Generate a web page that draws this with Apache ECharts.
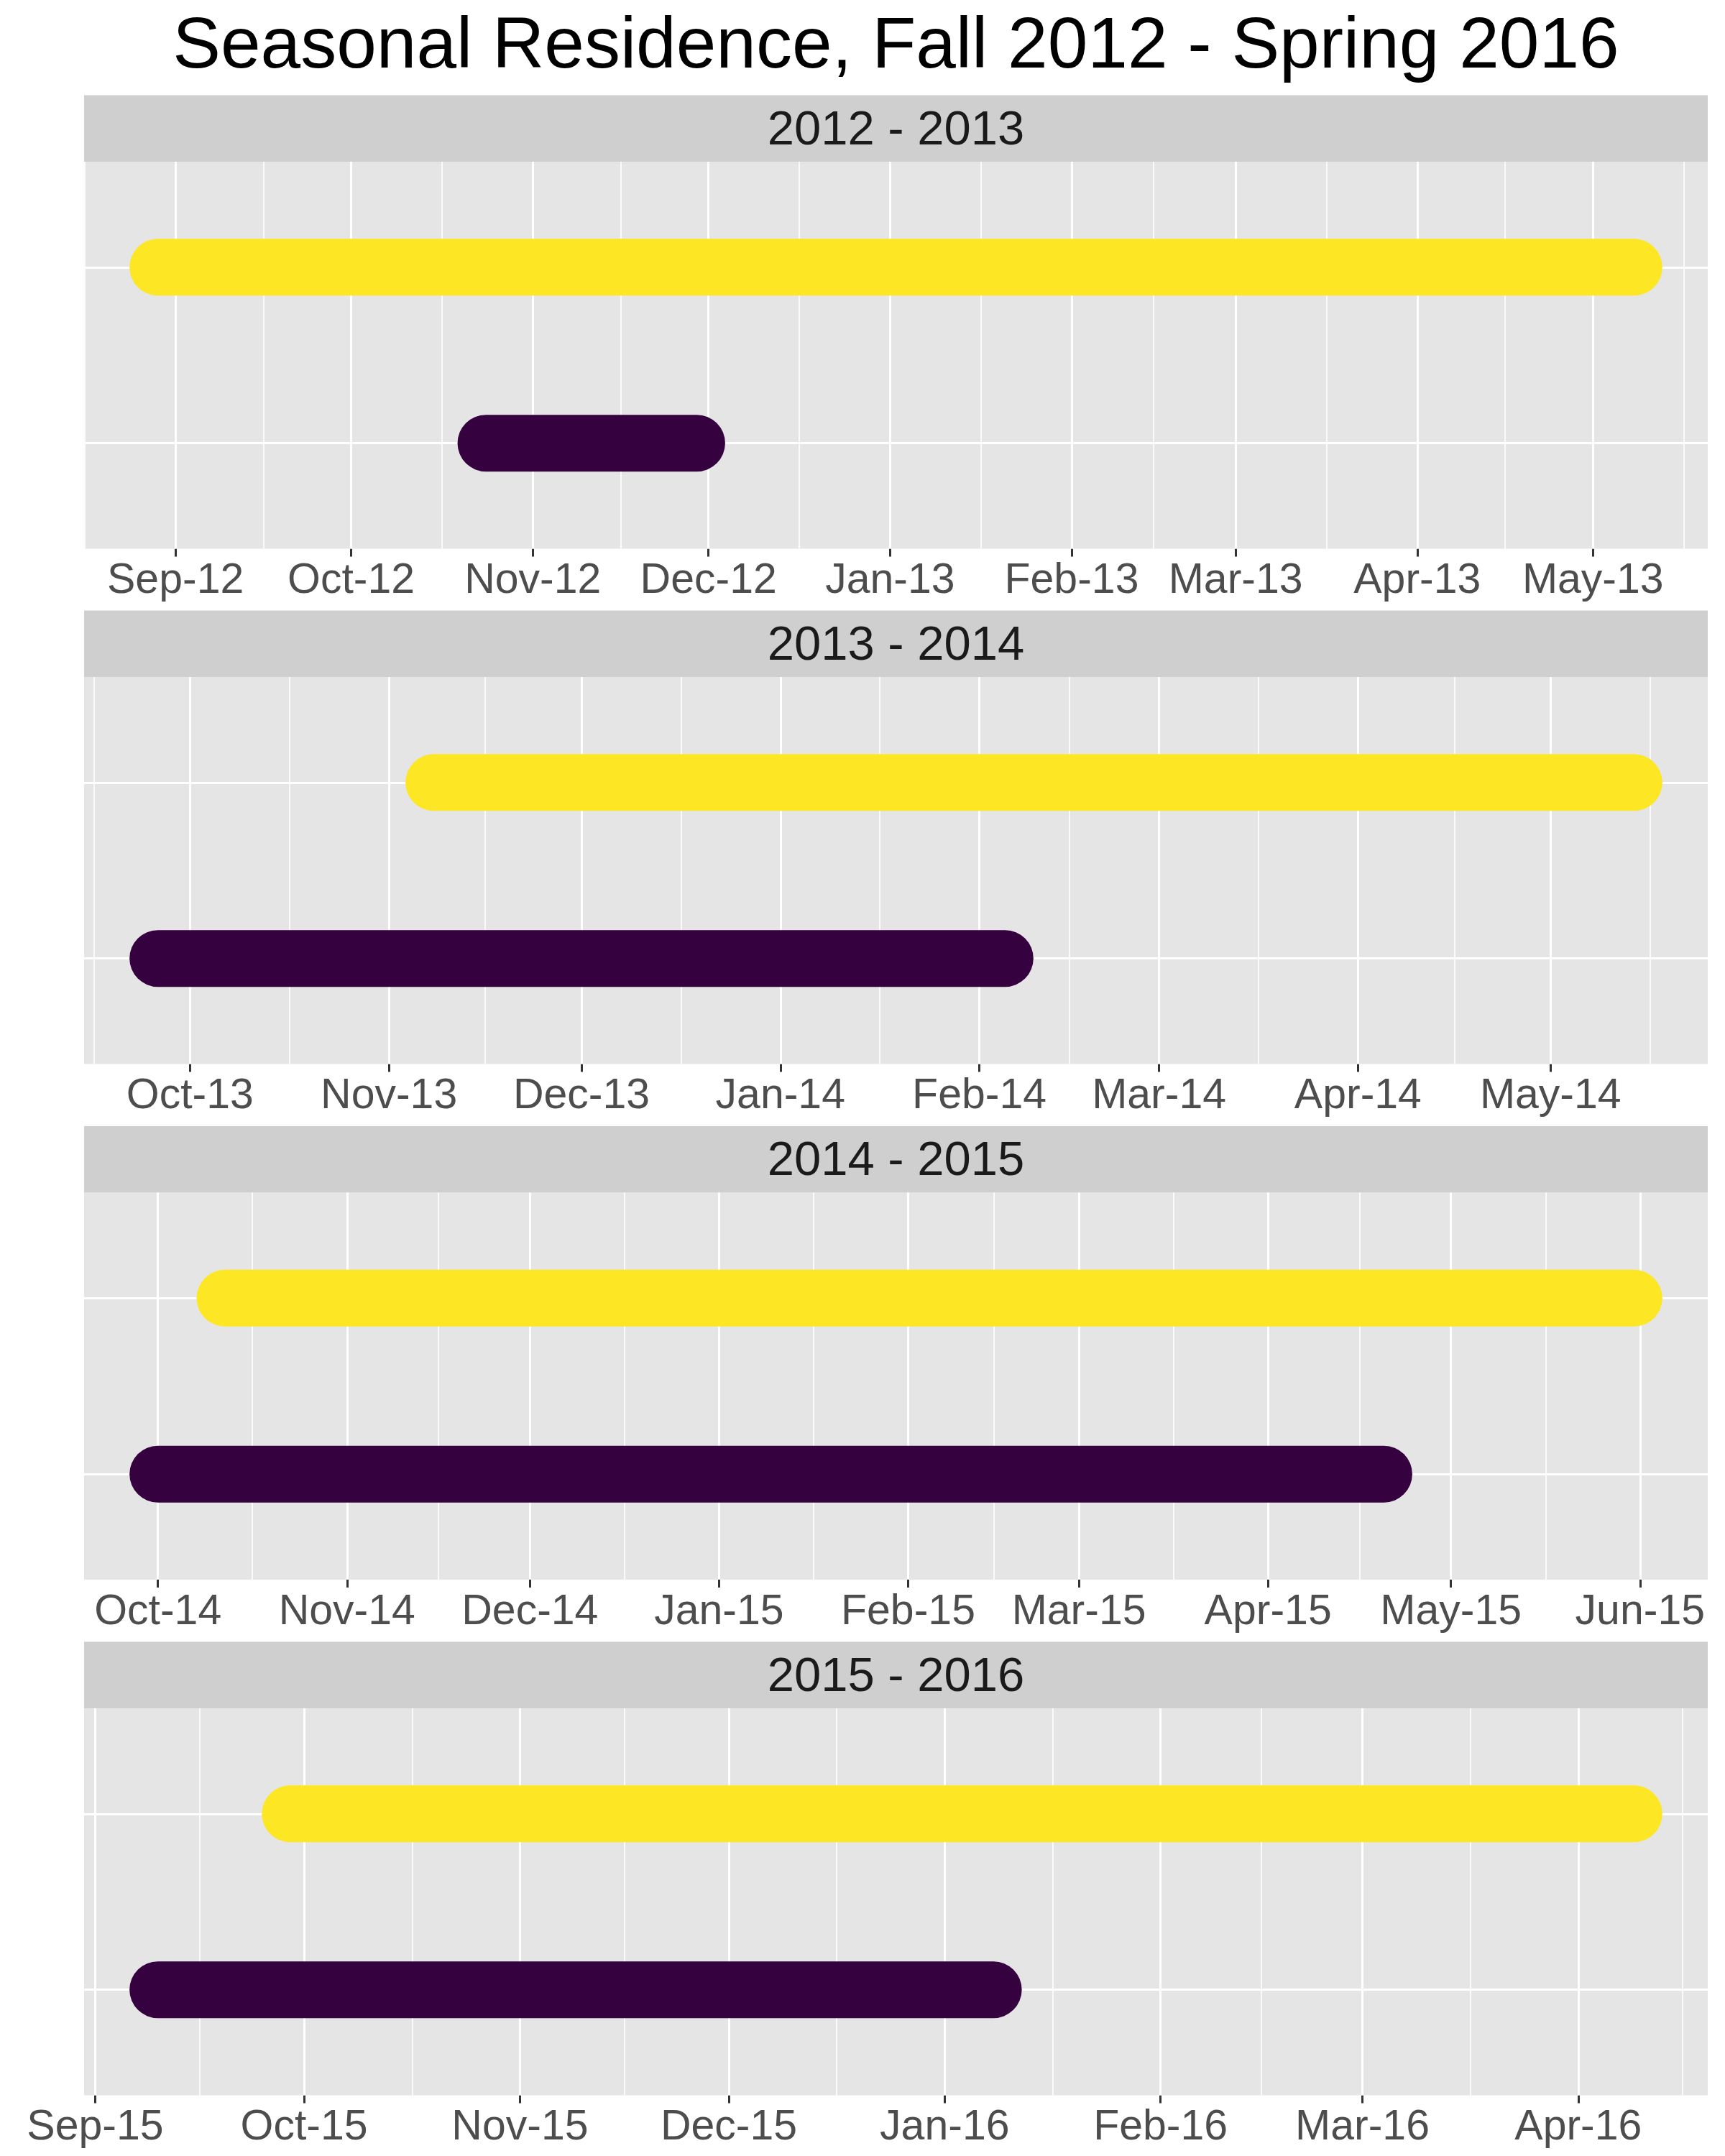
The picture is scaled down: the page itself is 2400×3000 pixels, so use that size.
<!DOCTYPE html>
<html><head><meta charset="utf-8">
<script src="https://cdn.jsdelivr.net/npm/echarts@6/dist/echarts.min.js"></script>
<style>html,body{margin:0;padding:0;background:#fff}#c{width:2400px;height:3000px}</style>
</head><body><div id="c"></div>
<script>
// ---- data ----
const chartTitle = 'Seasonal Residence, Fall 2012 - Spring 2016';
const panels = ['2012 - 2013', '2013 - 2014', '2014 - 2015', '2015 - 2016'];
const yellowStart = ['2012-08-29', '2013-11-08', '2014-10-12', '2015-09-29'];
const yellowEnd   = ['2013-05-08', '2014-05-14', '2015-05-31', '2016-04-09'];
const purpleStart = ['2012-10-24', '2013-09-26', '2014-10-01', '2015-09-10'];
const purpleEnd   = ['2012-11-29', '2014-02-05', '2015-04-20', '2016-01-08'];
const monthTicks1 = ['2012-09-01','2012-10-01','2012-11-01','2012-12-01','2013-01-01','2013-02-01','2013-03-01','2013-04-01','2013-05-01'];
const monthTicks2 = ['2013-10-01','2013-11-01','2013-12-01','2014-01-01','2014-02-01','2014-03-01','2014-04-01','2014-05-01'];
const monthTicks3 = ['2014-10-01','2014-11-01','2014-12-01','2015-01-01','2015-02-01','2015-03-01','2015-04-01','2015-05-01','2015-06-01'];
const monthTicks4 = ['2015-09-01','2015-10-01','2015-11-01','2015-12-01','2016-01-01','2016-02-01','2016-03-01','2016-04-01'];
const monthTicks = [monthTicks1, monthTicks2, monthTicks3, monthTicks4];
const monthNames = ['Jan','Feb','Mar','Apr','May','Jun','Jul','Aug','Sep','Oct','Nov','Dec'];

// ---- helpers ----
function ts(s){ const p = s.split('-').map(Number); return new Date(p[0], p[1]-1, p[2]).getTime(); }
function fmt(v){ const d = new Date(Math.round(v)); return monthNames[d.getMonth()] + '-' + String(d.getFullYear() % 100).padStart(2, '0'); }

const FONT = "'Liberation Sans', Arial, Helvetica, sans-serif";
const YELLOW = '#FDE725', PURPLE = '#36013F';
const L = 117, W = 2259, H = 538.5, STRIP = 92.5;
const tops = [225, 942, 1659.5, 2377];

const grids = [], xAxes = [], yAxes = [], series = [], graphics = [];
const titles = [{
  text: chartTitle, left: 1246.5, top: 16, textAlign: 'center', padding: 0,
  textStyle: { fontFamily: FONT, fontSize: 100, fontWeight: 'normal', color: '#000000' }
}];

panels.forEach((name, i) => {
  const ys = ts(yellowStart[i]), ye = ts(yellowEnd[i]);
  const ps = ts(purpleStart[i]), pe = ts(purpleEnd[i]);
  const lo = Math.min(ys, ps), hi = Math.max(ye, pe);
  const pad = (hi - lo) * 0.05;
  const xmin = lo - pad, xmax = hi + pad;
  const majors = monthTicks[i].map(ts);
  const f = new Date(majors[0]), l = new Date(majors[majors.length - 1]);
  const ext = [new Date(f.getFullYear(), f.getMonth() - 1, 1).getTime(), ...majors,
               new Date(l.getFullYear(), l.getMonth() + 1, 1).getTime()];
  const minors = [];
  for (let j = 0; j + 1 < ext.length; j++) {
    const m = (ext[j] + ext[j + 1]) / 2;
    if (m >= xmin && m <= xmax) minors.push(m);
  }
  grids.push({ left: L, top: tops[i], width: W, height: H, show: true,
    backgroundColor: '#E5E5E5', borderWidth: 0 });
  xAxes.push({
    type: 'value', gridIndex: i, min: xmin, max: xmax, scale: true,
    splitLine: { show: false }, axisLine: { show: false },
    axisTick: { show: true, customValues: majors, length: 11, lineStyle: { color: '#333333', width: 3 } },
    axisLabel: { show: true, customValues: majors, formatter: fmt, margin: 16, color: '#4D4D4D',
      fontSize: 59, fontFamily: FONT, hideOverlap: false, showMinLabel: true, showMaxLabel: true }
  });
  yAxes.push({ type: 'value', gridIndex: i, min: 0.4, max: 2.6, show: false });
  const gl = [];
  minors.forEach(v => gl.push({ xAxis: v, lineStyle: { color: '#FFFFFF', width: 1.6, type: 'solid' } }));
  majors.forEach(v => gl.push({ xAxis: v, lineStyle: { color: '#FFFFFF', width: 3, type: 'solid' } }));
  [1, 2].forEach(v => gl.push({ yAxis: v, lineStyle: { color: '#FFFFFF', width: 3, type: 'solid' } }));
  series.push({
    type: 'line', xAxisIndex: i, yAxisIndex: i, data: [], z: 1, silent: true,
    markLine: { silent: true, z: 1, symbol: ['none', 'none'], label: { show: false }, animation: false,
      lineStyle: { type: 'solid' }, emphasis: { disabled: true }, data: gl }
  });
  series.push({
    type: 'line', xAxisIndex: i, yAxisIndex: i, z: 10, silent: true, symbol: 'none',
    data: [[ys, 2], [ye, 2]], lineStyle: { color: YELLOW, width: 79, cap: 'round' }
  });
  series.push({
    type: 'line', xAxisIndex: i, yAxisIndex: i, z: 10, silent: true, symbol: 'none',
    data: [[ps, 1], [pe, 1]], lineStyle: { color: PURPLE, width: 79, cap: 'round' }
  });
  graphics.push({ type: 'rect', shape: { x: L, y: tops[i] - STRIP, width: W, height: STRIP },
    style: { fill: '#CFCFCF' }, z: 0 });
  titles.push({ text: name, left: L + W / 2, top: tops[i] - STRIP + 16.5, textAlign: 'center', padding: 0,
    textStyle: { fontFamily: FONT, fontSize: 67, fontWeight: 'normal', color: '#1A1A1A' } });
});

const chart = echarts.init(document.getElementById('c'), null, { renderer: 'canvas' });
chart.setOption({
  animation: false,
  backgroundColor: '#FFFFFF',
  title: titles,
  grid: grids, xAxis: xAxes, yAxis: yAxes, series: series,
  graphic: { elements: graphics }
});
</script></body></html>
